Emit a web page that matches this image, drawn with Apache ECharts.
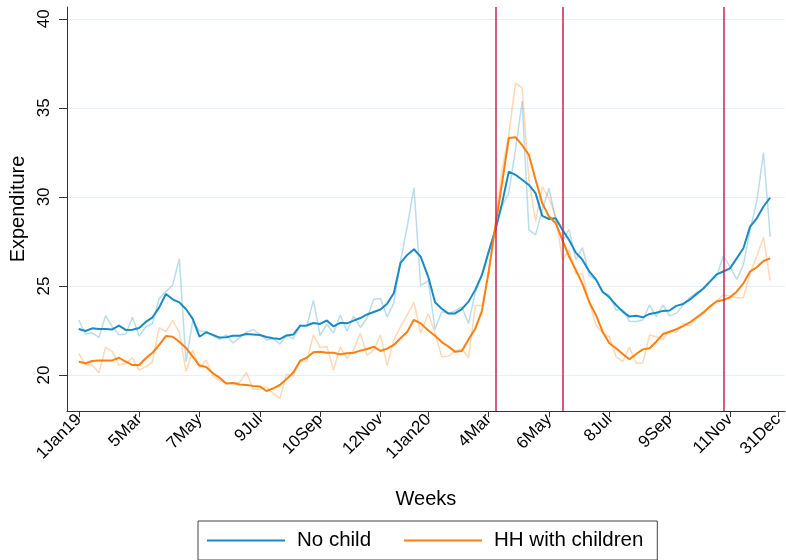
<!DOCTYPE html>
<html><head><meta charset="utf-8">
<script src="https://cdn.jsdelivr.net/npm/echarts@6/dist/echarts.min.js"></script>
<style>html,body{margin:0;padding:0;background:#fff}#c{width:786px;height:560px}</style>
</head><body><div id="c"></div>
<script>
const years = [2019, 2020];
const weeksPerYear = 52;
const tickDates = ['2019-01-01','2019-03-05','2019-05-07','2019-07-09','2019-09-10','2019-11-12','2020-01-01','2020-03-04','2020-05-06','2020-07-08','2020-09-09','2020-11-11','2020-12-31'];
const tickLabels = ['1Jan19','5Mar','7May','9Jul','10Sep','12Nov','1Jan20','4Mar','6May','8Jul','9Sep','11Nov','31Dec'];
const yTicks = [20, 25, 30, 35, 40];
const eventDates = ['2020-03-11','2020-05-20','2020-11-04'];

const noChildSmooth = [
22.58,22.47,22.62,22.58,22.58,22.56,22.77,22.53,22.54,22.64,
22.98,23.24,23.80,24.55,24.25,24.08,23.69,23.15,22.15,22.40,
22.25,22.10,22.12,22.20,22.20,22.30,22.28,22.25,22.13,22.06,
22.02,22.22,22.27,22.76,22.78,22.92,22.87,23.06,22.73,22.93,
22.90,23.05,23.20,23.40,23.54,23.68,24.00,24.60,26.30,26.74,
27.06,26.65,
25.50,24.08,23.72,23.45,23.46,23.70,24.12,24.78,25.62,26.90,
28.15,29.64,31.42,31.24,30.96,30.67,30.21,28.93,28.76,28.80,
28.15,27.58,26.87,26.46,25.82,25.37,24.68,24.36,23.93,23.56,
23.28,23.33,23.24,23.43,23.50,23.60,23.62,23.88,23.99,24.23,
24.54,24.84,25.24,25.65,25.81,25.99,26.55,27.12,28.33,28.80,
29.46,29.96];
const noChildWeekly = [
23.09,22.30,22.37,22.11,23.33,22.71,22.26,22.30,23.24,22.19,
22.71,22.90,24.30,24.68,25.05,26.52,20.75,23.05,22.48,22.45,
22.20,22.00,22.25,21.80,22.10,22.40,22.55,22.30,21.97,22.03,
21.74,22.23,22.03,22.81,22.71,24.19,22.23,22.85,22.36,23.37,
22.46,23.30,22.67,23.20,24.25,24.30,23.26,24.05,26.40,28.34,
30.52,25.02,
25.30,22.57,23.55,23.46,23.60,23.84,22.90,24.63,25.62,27.02,
28.15,29.46,30.21,32.64,35.36,28.15,27.87,29.27,30.49,28.71,
27.49,28.18,26.46,27.15,25.60,25.34,24.63,24.49,23.65,23.69,
23.00,23.00,23.09,23.93,23.28,23.93,23.32,23.46,23.93,24.35,
24.63,24.87,25.25,25.50,26.69,26.09,25.37,26.18,28.15,29.74,
32.49,27.77];
const childSmooth = [
20.75,20.66,20.79,20.81,20.81,20.82,20.97,20.75,20.56,20.56,
20.94,21.25,21.69,22.19,22.15,21.87,21.52,21.03,20.53,20.45,
20.10,19.85,19.53,19.55,19.47,19.44,19.39,19.36,19.10,19.25,
19.44,19.77,20.14,20.79,20.97,21.28,21.31,21.25,21.25,21.16,
21.22,21.25,21.37,21.46,21.59,21.35,21.48,21.69,22.06,22.43,
23.10,22.90,
22.50,22.20,21.85,21.60,21.30,21.35,22.00,22.60,23.60,25.80,
28.33,30.77,33.30,33.35,32.90,32.36,30.96,29.64,28.90,28.52,
27.58,26.65,25.90,25.10,24.10,23.37,22.43,21.78,21.50,21.18,
20.88,21.18,21.44,21.50,21.87,22.30,22.43,22.57,22.75,22.95,
23.23,23.50,23.84,24.13,24.21,24.36,24.68,25.15,25.81,26.05,
26.40,26.55];
const childWeekly = [
21.22,20.56,20.56,20.13,21.55,21.31,20.56,20.66,20.97,20.28,
20.47,20.75,22.66,22.43,23.07,22.40,20.20,21.40,20.40,20.84,
19.95,19.68,19.53,19.52,19.60,20.15,19.20,19.20,19.32,18.97,
18.69,20.05,19.95,20.80,20.75,22.25,21.55,21.60,20.28,21.59,
20.94,21.40,22.34,21.12,21.40,22.25,20.51,21.97,22.71,23.37,
24.10,22.34,
23.46,22.34,21.03,21.06,21.34,21.47,20.97,23.90,23.90,25.71,
28.52,31.52,33.49,36.39,36.11,30.96,28.62,30.58,29.92,28.90,
26.46,27.02,25.67,25.67,24.10,22.81,22.34,22.15,21.03,20.75,
21.59,20.66,20.69,22.25,22.15,21.97,22.49,22.38,22.90,22.76,
23.15,23.46,23.84,24.17,24.49,24.44,24.34,24.34,25.71,26.65,
27.73,25.30];

const DAY = 86400000;
const ORIGIN = Date.UTC(2019, 0, 1);
function dayOf(s) { const p = s.split('-').map(Number); return (Date.UTC(p[0], p[1]-1, p[2]) - ORIGIN) / DAY; }
const weekDays = [];
years.forEach(y => { for (let k = 0; k < weeksPerYear; k++) weekDays.push((Date.UTC(y,0,1) - ORIGIN) / DAY + 7*k); });
const pairs = vals => vals.map((v, i) => [weekDays[i], v]);
const tickDays = tickDates.map(dayOf);
const labelMap = {}; tickDays.forEach((d, i) => { labelMap[d] = tickLabels[i]; });

const FONT = "'Liberation Sans', Arial, sans-serif";
const BLUE = '#1a8bc0', ORANGE = '#ff7f0e';

const chart = echarts.init(document.getElementById('c'), null, {renderer: 'canvas'});
chart.setOption({
  animation: false,
  textStyle: {fontFamily: FONT},
  grid: {left: 67, right: 0, top: 7, bottom: 149},
  xAxis: {
    type: 'value', min: -12.3, max: 737.4,
    name: 'Weeks', nameLocation: 'middle', nameGap: 78,
    nameTextStyle: {fontSize: 20, color: '#000', fontFamily: FONT},
    axisLine: {show: true, onZero: false, lineStyle: {color: '#333', width: 1}},
    axisTick: {show: true, customValues: tickDays, length: 6, lineStyle: {color: '#333'}},
    axisLabel: {customValues: tickDays, formatter: v => labelMap[v] || '', rotate: 45, fontSize: 17, color: '#000', margin: 6, fontFamily: FONT},
    splitLine: {show: false}
  },
  yAxis: {
    type: 'value', min: 17.98, max: 40.66,
    name: 'Expenditure', nameLocation: 'middle', nameGap: 37,
    nameTextStyle: {fontSize: 20, color: '#000', fontFamily: FONT},
    axisLine: {show: true, onZero: false, lineStyle: {color: '#333', width: 1}},
    axisTick: {show: true, customValues: yTicks, length: 8, lineStyle: {color: '#333'}},
    axisLabel: {customValues: yTicks, rotate: 90, fontSize: 17, color: '#000', margin: 14, fontFamily: FONT},
    splitLine: {show: true, lineStyle: {color: '#e6f0f5', width: 1}}
  },
  legend: {
    data: ['No child', 'HH with children'],
    left: 198, top: 521, orient: 'horizontal',
    padding: [9, 14, 9, 9], itemGap: 33, itemWidth: 78, itemHeight: 2, icon: 'rect',
    borderColor: '#444', borderWidth: 1,
    textStyle: {fontSize: 20.5, color: '#000', fontFamily: FONT, padding: [0, 0, 0, 7]}
  },
  series: [
    {name: 'No child weekly', type: 'line', data: pairs(noChildWeekly), symbol: 'none', lineStyle: {color: 'rgba(26,139,192,0.3)', width: 1.5}, itemStyle: {color: 'rgba(26,139,192,0.3)'}, z: 2},
    {name: 'HH with children weekly', type: 'line', data: pairs(childWeekly), symbol: 'none', lineStyle: {color: 'rgba(255,127,14,0.3)', width: 1.5}, itemStyle: {color: 'rgba(255,127,14,0.3)'}, z: 2},
    {name: 'No child', type: 'line', data: pairs(noChildSmooth), symbol: 'none', lineStyle: {color: BLUE, width: 2}, itemStyle: {color: BLUE}, z: 3},
    {name: 'HH with children', type: 'line', data: pairs(childSmooth), symbol: 'none', lineStyle: {color: ORANGE, width: 2}, itemStyle: {color: ORANGE}, z: 3,
      markLine: {silent: true, symbol: 'none', label: {show: false}, animation: false,
        lineStyle: {color: '#c8254f', width: 1.5, type: 'solid'},
        data: eventDates.map(d => ({xAxis: dayOf(d)}))}}
  ]
});
</script></body></html>
